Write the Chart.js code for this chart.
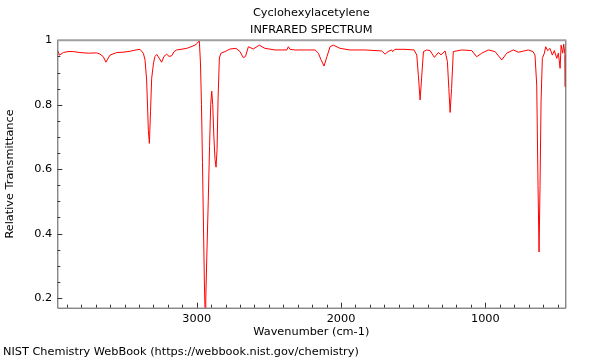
<!DOCTYPE html>
<html>
<head>
<meta charset="utf-8">
<script src="https://cdn.jsdelivr.net/npm/chart.js@4"></script>
<style>
  html, body { margin: 0; padding: 0; background: #fff; }
  #wrap { width: 600px; height: 360px; position: relative; }
</style>
</head>
<body>
<div id="wrap"><canvas id="ir"></canvas></div>
<script>
// Cyclohexylacetylene IR spectrum
const wavenumber = [
  3966, 3959, 3952, 3924, 3892, 3855, 3809, 3751, 3693, 3670, 3647, 3629, 3601, 3554, 3511, 3462,
  3421, 3393, 3370, 3358, 3347, 3335, 3328, 3320, 3312, 3299, 3289, 3277, 3265, 3243, 3227, 3208,
  3192, 3173, 3157, 3139, 3109, 3069, 3039, 3012, 2998, 2982, 2974, 2967, 2960, 2953, 2947, 2942,
  2937, 2930, 2920, 2911, 2903, 2896, 2889, 2881, 2873, 2866, 2859, 2852, 2843, 2832, 2804, 2769,
  2728, 2700, 2677, 2662, 2642, 2608, 2566, 2527, 2457, 2376, 2365, 2353, 2319, 2249, 2180, 2157,
  2139, 2118, 2097, 2076, 2053, 2007, 1938, 1834, 1718, 1695, 1674, 1649, 1643, 1626, 1557, 1494,
  1475, 1464, 1452, 1442, 1429, 1406, 1383, 1353, 1326, 1307, 1279, 1263, 1253, 1244, 1234, 1222,
  1164, 1094, 1060, 1025, 979, 933, 886, 852, 806, 771, 702, 670, 656, 644, 635, 628,
  621, 614, 605, 591, 582, 568, 552, 536, 522, 505, 494, 482, 475, 464, 457, 448, 446,
];
const transmittance = [
  0.968, 0.965, 0.954, 0.962, 0.965, 0.965, 0.962, 0.960, 0.961, 0.957, 0.949, 0.932, 0.954, 0.962, 0.963, 0.966,
  0.970, 0.972, 0.960, 0.939, 0.877, 0.720, 0.680, 0.780, 0.882, 0.930, 0.950, 0.956, 0.948, 0.932, 0.950, 0.957,
  0.950, 0.952, 0.965, 0.970, 0.972, 0.975, 0.980, 0.985, 0.990, 1.000, 0.930, 0.800, 0.620, 0.420, 0.250, 0.155,
  0.200, 0.330, 0.500, 0.670, 0.800, 0.842, 0.800, 0.700, 0.630, 0.606, 0.660, 0.820, 0.945, 0.960, 0.965, 0.973,
  0.975, 0.965, 0.946, 0.950, 0.980, 0.973, 0.985, 0.975, 0.970, 0.970, 0.980, 0.972, 0.970, 0.970, 0.970, 0.960,
  0.940, 0.920, 0.950, 0.980, 0.985, 0.975, 0.970, 0.970, 0.967, 0.957, 0.965, 0.970, 0.965, 0.972, 0.972, 0.970,
  0.954, 0.890, 0.815, 0.880, 0.965, 0.970, 0.968, 0.947, 0.962, 0.955, 0.967, 0.934, 0.850, 0.776, 0.850, 0.965,
  0.970, 0.968, 0.949, 0.960, 0.970, 0.965, 0.939, 0.960, 0.970, 0.963, 0.970, 0.965, 0.954, 0.861, 0.550, 0.343,
  0.550, 0.810, 0.944, 0.960, 0.980, 0.968, 0.975, 0.954, 0.968, 0.944, 0.960, 0.913, 0.985, 0.960, 0.988, 0.954, 0.856,
];

const xTicks = [1000, 2000, 3000];
const yTicks = [0.2, 0.4, 0.6, 0.8, 1];
const xMinorStep = 100;
const yMinorStep = 0.05;

const FONT = 'DejaVu Sans';
const FONT_SIZE = 11.3;

/** Inward tick marks, frame and all the free text */
const frame = {
  id: 'frame',
  afterDatasetsDraw(chart) {
    const { ctx, chartArea: a, scales: { x, y } } = chart;
    ctx.save();
    ctx.strokeStyle = '#333';
    ctx.lineWidth = 1;
    ctx.beginPath();
    for (let v = Math.ceil(x.min / xMinorStep) * xMinorStep; v <= x.max; v += xMinorStep) {
      const px = Math.round(x.getPixelForValue(v)) + 0.5;
      const len = v % 1000 === 0 ? 5 : 3;
      ctx.moveTo(px, a.bottom);
      ctx.lineTo(px, a.bottom - len);
    }
    for (let i = Math.ceil(y.min / yMinorStep); i * yMinorStep <= y.max + 1e-9; i++) {
      const v = i * yMinorStep;
      const py = Math.round(y.getPixelForValue(v)) + 0.5;
      const len = i % 4 === 0 ? 5 : 3;
      ctx.moveTo(a.left, py);
      ctx.lineTo(a.left + len, py);
    }
    ctx.stroke();

    // box
    ctx.strokeStyle = '#555';
    ctx.beginPath();
    ctx.moveTo(a.left + 0.5, a.top);
    ctx.lineTo(a.left + 0.5, a.bottom + 0.5);
    ctx.lineTo(a.right + 0.5, a.bottom + 0.5);
    ctx.lineTo(a.right + 0.5, a.top);
    ctx.stroke();
    ctx.strokeStyle = '#a0a0a0';
    ctx.lineWidth = 2;
    ctx.beginPath();
    ctx.moveTo(a.left, a.top);
    ctx.lineTo(a.right + 1, a.top);
    ctx.stroke();

    // text
    const cx = (a.left + a.right) / 2;
    ctx.fillStyle = '#000';
    ctx.font = `${FONT_SIZE}px "${FONT}"`;
    ctx.textAlign = 'center';
    ctx.textBaseline = 'middle';
    ctx.fillText('Cyclohexylacetylene', cx, 13);
    ctx.fillText('INFRARED SPECTRUM', cx, 30);
    ctx.fillText('Wavenumber (cm-1)', cx, 332);
    ctx.save();
    ctx.translate(10, (a.top + a.bottom) / 2);
    ctx.rotate(-Math.PI / 2);
    ctx.fillText('Relative Transmittance', 0, 0);
    ctx.restore();
    ctx.textAlign = 'left';
    ctx.fillText('NIST Chemistry WebBook (https://webbook.nist.gov/chemistry)', 3, 352);
    ctx.restore();
  },
};

const tickFont = { family: FONT, size: FONT_SIZE };

new Chart(document.getElementById('ir'), {
  type: 'line',
  data: {
    datasets: [{
      data: wavenumber.map((w, i) => ({ x: w, y: transmittance[i] })),
      borderColor: '#ff0000',
      borderWidth: 1,
      pointRadius: 0,
      tension: 0,
      fill: false,
    }],
  },
  options: {
    responsive: true,
    maintainAspectRatio: false,
    animation: false,
    events: [],
    layout: { padding: { left: 0, right: 34.7, top: 40.3, bottom: 0 } },
    plugins: { legend: { display: false }, tooltip: { enabled: false }, title: { display: false } },
    scales: {
      x: {
        type: 'linear',
        reverse: true,
        min: 446,
        max: 3966,
        border: { display: false },
        grid: { display: false, drawTicks: false },
        afterBuildTicks: (s) => { s.ticks = xTicks.map(v => ({ value: v })); },
        afterFit: (s) => { s.height = 52.3; },
        ticks: { color: '#000', font: tickFont, padding: 5, maxRotation: 0, callback: (v) => String(v) },
      },
      y: {
        min: 0.17,
        max: 1.0,
        border: { display: false },
        grid: { display: false, drawTicks: false },
        afterBuildTicks: (s) => { s.ticks = yTicks.map(v => ({ value: v })); },
        afterFit: (s) => { s.width = 57.3; },
        ticks: { color: '#000', font: tickFont, padding: 5, callback: (v) => String(v) },
      },
    },
  },
  plugins: [frame],
});
</script>
</body>
</html>
